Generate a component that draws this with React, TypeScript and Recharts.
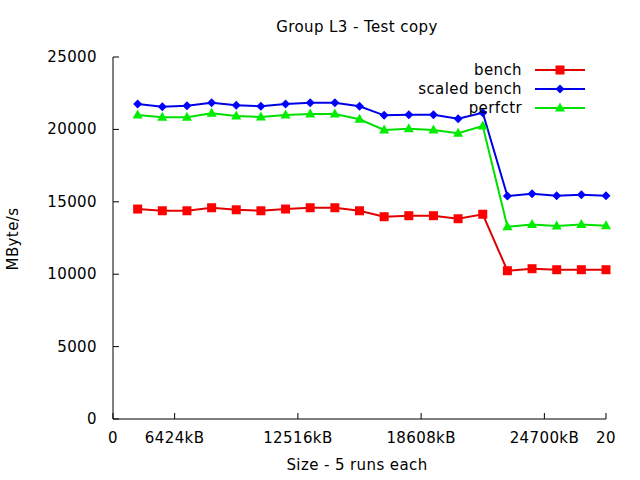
import React from "react";
import { LineChart, Line, XAxis, YAxis, Legend } from "recharts";

const sizes = [1, 2, 3, 4, 5, 6, 7, 8, 9, 10, 11, 12, 13, 14, 15, 16, 17, 18, 19, 20];
const bench = [14500, 14380, 14380, 14590, 14450, 14380, 14500, 14590, 14590, 14380, 13970, 14040, 14040, 13830, 14140, 10240, 10380, 10310, 10310, 10310];
const scaledBench = [21750, 21570, 21640, 21840, 21660, 21600, 21750, 21840, 21840, 21600, 20970, 21010, 21010, 20740, 21150, 15400, 15560, 15420, 15490, 15420];
const perfctr = [20990, 20840, 20840, 21110, 20920, 20860, 20990, 21060, 21060, 20700, 19960, 20050, 19960, 19730, 20230, 13280, 13440, 13330, 13440, 13350];

const xTicks = [0, 2.5, 7.5, 12.5, 17.5, 20];
const xTickLabels = ["0", "6424kB", "12516kB", "18608kB", "24700kB", "20"];
const yTicks = [0, 5000, 10000, 15000, 20000, 25000];

const seriesNames = ["bench", "scaled bench", "perfctr"];
const seriesColors = ["#ff0000", "#0000ff", "#00ee00"];
const lineColors = ["#e00000", "#0000e8", "#00e000"];
const seriesMarkers = ["square", "diamond", "triangle"];

const data = sizes.map((s, i) => ({
  size: s,
  bench: bench[i],
  scaled: scaledBench[i],
  perfctr: perfctr[i],
}));

const FONT = "'DejaVu Sans', sans-serif";
const FS = 15;
const LS = 0.4;
const TICK = 6;

function Marker({ kind, cx, cy, color }: { kind: string; cx: number; cy: number; color: string }) {
  if (kind === "square") {
    return <rect x={cx - 4.5} y={cy - 4.5} width={9} height={9} fill={color} />;
  }
  if (kind === "diamond") {
    return <polygon points={`${cx},${cy - 4.5} ${cx + 4.5},${cy} ${cx},${cy + 4.5} ${cx - 4.5},${cy}`} fill={color} />;
  }
  return <polygon points={`${cx},${cy - 5.5} ${cx + 5},${cy + 3.5} ${cx - 5},${cy + 3.5}`} fill={color} />;
}

const makeDot = (kind: string, color: string) => (props: any) => {
  const { cx, cy, index } = props;
  if (cx == null || cy == null) return <g key={`d-${kind}-${index}`} />;
  return (
    <g key={`d-${kind}-${index}`}>
      <Marker kind={kind} cx={cx} cy={cy} color={color} />
    </g>
  );
};

const XTickBottom = (props: any) => {
  const { x, y, index } = props;
  return (
    <g>
      <line x1={x} y1={y} x2={x} y2={y - TICK} stroke="#000" strokeWidth={1} />
      <text x={x} y={y + 19} textAnchor="middle" dominantBaseline="central" fontFamily={FONT} fontSize={FS} letterSpacing={LS} fill="#000">
        {xTickLabels[index]}
      </text>
    </g>
  );
};

const XTickTop = (props: any) => {
  const { x, y } = props;
  return <line x1={x} y1={y} x2={x} y2={y + TICK} stroke="#000" strokeWidth={1} />;
};

const YTickLeft = (props: any) => {
  const { x, y, payload } = props;
  return (
    <g>
      <line x1={x} y1={y} x2={x + TICK} y2={y} stroke="#000" strokeWidth={1} />
      <text x={x - 16} y={y} textAnchor="end" dominantBaseline="central" fontFamily={FONT} fontSize={FS} letterSpacing={LS} fill="#000">
        {String(payload.value)}
      </text>
    </g>
  );
};

const YTickRight = (props: any) => {
  const { x, y } = props;
  return <line x1={x} y1={y} x2={x - TICK} y2={y} stroke="#000" strokeWidth={1} />;
};

const LegendContent = () => (
  <svg width={200} height={62} style={{ overflow: "visible" }}>
    {seriesNames.map((name, i) => {
      const cy = 12 + i * 19;
      return (
        <g key={name}>
          <text x={122} y={cy} textAnchor="end" dominantBaseline="central" fontFamily={FONT} fontSize={FS} letterSpacing={LS} fill="#000">
            {name}
          </text>
          <line x1={135} y1={cy} x2={185} y2={cy} stroke={lineColors[i]} strokeWidth={2} />
          <Marker kind={seriesMarkers[i]} cx={160} cy={cy} color={seriesColors[i]} />
        </g>
      );
    })}
  </svg>
);

export default function App() {
  return (
    <div style={{ position: "absolute", left: 0, top: 0, width: 640, height: 480, background: "#fff" }}>
      <svg width={640} height={480} style={{ position: "absolute", left: 0, top: 0 }}>
        <text x={357} y={27} textAnchor="middle" dominantBaseline="central" fontFamily={FONT} fontSize={FS} letterSpacing={LS} fill="#000">
          Group L3 - Test copy
        </text>
        <text x={357} y={465} textAnchor="middle" dominantBaseline="central" fontFamily={FONT} fontSize={FS} letterSpacing={LS} fill="#000">
          Size - 5 runs each
        </text>
        <text
          x={13}
          y={239}
          textAnchor="middle"
          dominantBaseline="central"
          fontFamily={FONT}
          fontSize={FS}
          letterSpacing={LS}
          fill="#000"
          transform="rotate(-90 13 239)"
        >
          MByte/s
        </text>
      </svg>
      <div style={{ position: "absolute", left: 0, top: 0 }}>
        <LineChart width={640} height={480} data={data} margin={{ top: 57, right: 34, bottom: 31, left: 43 }}>
          <XAxis
            dataKey="size"
            type="number"
            domain={[0, 20]}
            ticks={xTicks}
            interval={0}
            height={30}
            tickSize={0}
            tickMargin={0}
            tickLine={false}
            axisLine={{ stroke: "#000", strokeWidth: 1 }}
            tick={<XTickBottom />}
          />
          <XAxis
            xAxisId="top"
            orientation="top"
            dataKey="size"
            type="number"
            domain={[0, 20]}
            ticks={xTicks}
            interval={0}
            height={0}
            tickSize={0}
            tickMargin={0}
            tickLine={false}
            axisLine={{ stroke: "#000", strokeWidth: 1 }}
            tick={<XTickTop />}
          />
          <YAxis
            type="number"
            domain={[0, 25000]}
            ticks={yTicks}
            interval={0}
            width={70}
            tickSize={0}
            tickMargin={0}
            tickLine={false}
            axisLine={{ stroke: "#000", strokeWidth: 1 }}
            tick={<YTickLeft />}
          />
          <YAxis
            yAxisId="right"
            orientation="right"
            type="number"
            domain={[0, 25000]}
            ticks={yTicks}
            interval={0}
            width={0}
            tickSize={0}
            tickMargin={0}
            tickLine={false}
            axisLine={{ stroke: "#000", strokeWidth: 1 }}
            tick={<YTickRight />}
          />
          <Legend
            layout="horizontal"
            verticalAlign="middle"
            align="center"
            content={<LegendContent />}
            wrapperStyle={{ position: "absolute", left: 400, top: 58, width: 200, height: 62 }}
          />
          <Line
            type="linear"
            dataKey="bench"
            name="bench"
            stroke={lineColors[0]}
            strokeWidth={2}
            dot={makeDot(seriesMarkers[0], seriesColors[0])}
            activeDot={false}
            isAnimationActive={false}
          />
          <Line
            type="linear"
            dataKey="scaled"
            name="scaled bench"
            stroke={lineColors[1]}
            strokeWidth={2}
            dot={makeDot(seriesMarkers[1], seriesColors[1])}
            activeDot={false}
            isAnimationActive={false}
          />
          <Line
            type="linear"
            dataKey="perfctr"
            name="perfctr"
            stroke={lineColors[2]}
            strokeWidth={2}
            dot={makeDot(seriesMarkers[2], seriesColors[2])}
            activeDot={false}
            isAnimationActive={false}
          />
        </LineChart>
      </div>
    </div>
  );
}
